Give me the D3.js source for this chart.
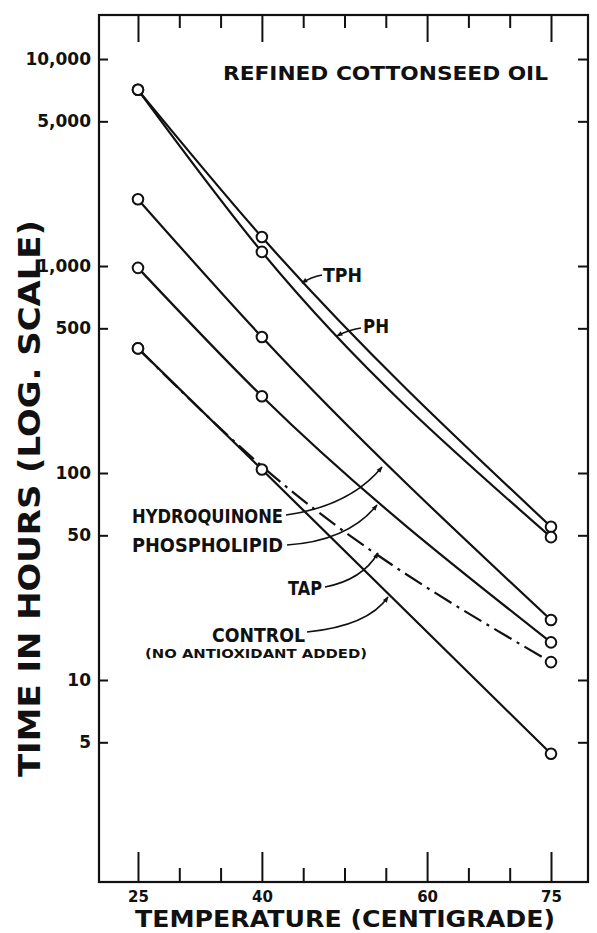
<!DOCTYPE html>
<html>
<head>
<meta charset="utf-8">
<script src="https://cdn.jsdelivr.net/npm/d3@7"></script>
<style>
  html, body { margin: 0; padding: 0; background: #fff; }
  svg { display: block; }
  text { font-family: "DejaVu Sans", sans-serif; font-weight: bold; fill: #111; }
</style>
</head>
<body>
<svg id="chart" width="597" height="933"></svg>
<script>
// ---- data ----
const temps = [25, 40, 75];
const seriesNames = ["TPH", "PH", "HYDROQUINONE", "PHOSPHOLIPID", "TAP", "CONTROL"];
const tphHours = [7100, 1380, 55];
const phHours = [7100, 1170, 49];
const hydroquinoneHours = [2100, 454, 19.5];
const phospholipidHours = [980, 235, 15.2];
const tapHours = [400, 108, 12.2];
const controlHours = [400, 104, 4.4];
const tapMarkers = [true, false, true];
const yTickValues = [5, 10, 50, 100, 500, 1000, 5000, 10000];
const yTickLabels = ["5", "10", "50", "100", "500", "1,000", "5,000", "10,000"];
const xMajorTicks = [25, 40, 60, 75];
const xMinorTicks = [30, 35, 45, 50, 55, 65, 70];
const titleText = "REFINED COTTONSEED OIL";
const xTitle = "TEMPERATURE (CENTIGRADE)";
const yTitle = "TIME  IN  HOURS  (LOG. SCALE)";
const controlNote = "(NO  ANTIOXIDANT  ADDED)";

// ---- layout ----
const L = 99, R = 588, T = 15, B = 882;
const svg = d3.select("#chart");

const x = d3.scaleLinear().domain([20.28, 79.48]).range([L, R]);
const y = d3.scaleLog().domain([1.057, 16320]).range([B, T]);

const ink = "#111";

// frame
svg.append("rect").attr("x", L).attr("y", T).attr("width", R - L).attr("height", B - T)
  .attr("fill", "none").attr("stroke", ink).attr("stroke-width", 2.2);

function styleAxis(g) {
  g.select(".domain").remove();
  g.selectAll(".tick line").attr("stroke", ink).attr("stroke-width", 2);
  g.selectAll(".tick text").style("font-family", "DejaVu Sans").style("font-weight", "bold").attr("fill", ink);
}

// left axis with labels
const yLabelMap = new Map(yTickValues.map((v, i) => [v, yTickLabels[i]]));
svg.append("g").attr("transform", `translate(${L},0)`)
  .call(d3.axisLeft(y).tickValues(yTickValues).tickSize(-9).tickPadding(8)
    .tickFormat(d => yLabelMap.get(d)))
  .call(styleAxis)
  .call(g => g.selectAll(".tick text").attr("font-size", 17));

// right axis ticks
svg.append("g").attr("transform", `translate(${R},0)`)
  .call(d3.axisRight(y).tickValues(yTickValues).tickSize(-10).tickFormat(""))
  .call(styleAxis);

// bottom axis
svg.append("g").attr("transform", `translate(0,${B})`)
  .call(d3.axisBottom(x).tickValues(xMajorTicks).tickSize(-30).tickPadding(9).tickFormat(d3.format("d")))
  .call(styleAxis)
  .call(g => g.selectAll(".tick text").attr("font-size", 15));
svg.append("g").attr("transform", `translate(0,${B})`)
  .call(d3.axisBottom(x).tickValues(xMinorTicks).tickSize(-14).tickFormat(""))
  .call(styleAxis);

// top axis
svg.append("g").attr("transform", `translate(0,${T})`)
  .call(d3.axisTop(x).tickValues(xMajorTicks).tickSize(-27).tickFormat(""))
  .call(styleAxis);
svg.append("g").attr("transform", `translate(0,${T})`)
  .call(d3.axisTop(x).tickValues(xMinorTicks).tickSize(-13).tickFormat(""))
  .call(styleAxis);

// ---- series ----
const series = [
  { name: seriesNames[0], values: tphHours, dash: null, markers: [true, true, true] },
  { name: seriesNames[1], values: phHours, dash: null, markers: [true, true, true] },
  { name: seriesNames[2], values: hydroquinoneHours, dash: null, markers: [true, true, true] },
  { name: seriesNames[3], values: phospholipidHours, dash: null, markers: [true, true, true] },
  { name: seriesNames[4], values: tapHours, dash: "20,6,3,6", markers: tapMarkers },
  { name: seriesNames[5], values: controlHours, dash: null, markers: [true, true, true] }
];

const line = d3.line().x(d => x(d[0])).y(d => y(d[1])).curve(d3.curveMonotoneX);

series.forEach(s => {
  const pts = temps.map((t, i) => [t, s.values[i]]);
  svg.append("path").attr("d", line(pts)).attr("fill", "none")
    .attr("stroke", ink).attr("stroke-width", 2.2)
    .attr("stroke-dasharray", s.dash);
});
series.forEach(s => {
  temps.forEach((t, i) => {
    if (!s.markers[i]) return;
    svg.append("circle").attr("cx", x(t)).attr("cy", y(s.values[i])).attr("r", 5.3)
      .attr("fill", "#fff").attr("stroke", ink).attr("stroke-width", 2);
  });
});

// ---- arrows & labels ----
const defs = svg.append("defs");
defs.append("marker").attr("id", "arrow").attr("viewBox", "0 0 10 10")
  .attr("refX", 9).attr("refY", 5).attr("markerWidth", 8).attr("markerHeight", 6)
  .attr("markerUnits", "userSpaceOnUse").attr("orient", "auto")
  .append("path").attr("d", "M0,1 L10,5 L0,9 Z").attr("fill", ink);

const arrows = [
  "M322,275 Q311,277 302,283",
  "M361,328 Q348,330 337,336",
  "M286,515 Q350,506 382,467",
  "M287,545 Q348,541 377,505",
  "M325,587 Q362,580 378,553",
  "M307,632 Q368,626 388,597"
];
arrows.forEach(d => svg.append("path").attr("d", d).attr("fill", "none")
  .attr("stroke", ink).attr("stroke-width", 1.6).attr("marker-end", "url(#arrow)"));

function label(txt, x0, base, size, len) {
  svg.append("text").attr("x", x0).attr("y", base).attr("font-size", size)
    .attr("textLength", len).attr("lengthAdjust", "spacingAndGlyphs").text(txt);
}
label(titleText, 223, 80, 20, 325);
label(seriesNames[0], 323, 282, 19, 39);
label(seriesNames[1], 363, 333, 19, 26);
label(seriesNames[2], 132, 523, 20, 151);
label(seriesNames[3], 132, 552, 20, 151);
label(seriesNames[4], 288, 595, 20, 34);
label(seriesNames[5], 212, 642, 20, 93);
label(controlNote, 145, 658, 12, 222);

// axis titles
label(xTitle, 135, 927, 23, 420);
svg.append("text").attr("transform", "translate(40,777) rotate(-90)")
  .attr("x", 0).attr("y", 0).attr("font-size", 30)
  .attr("textLength", 557).attr("lengthAdjust", "spacingAndGlyphs").text(yTitle);
</script>
</body>
</html>
